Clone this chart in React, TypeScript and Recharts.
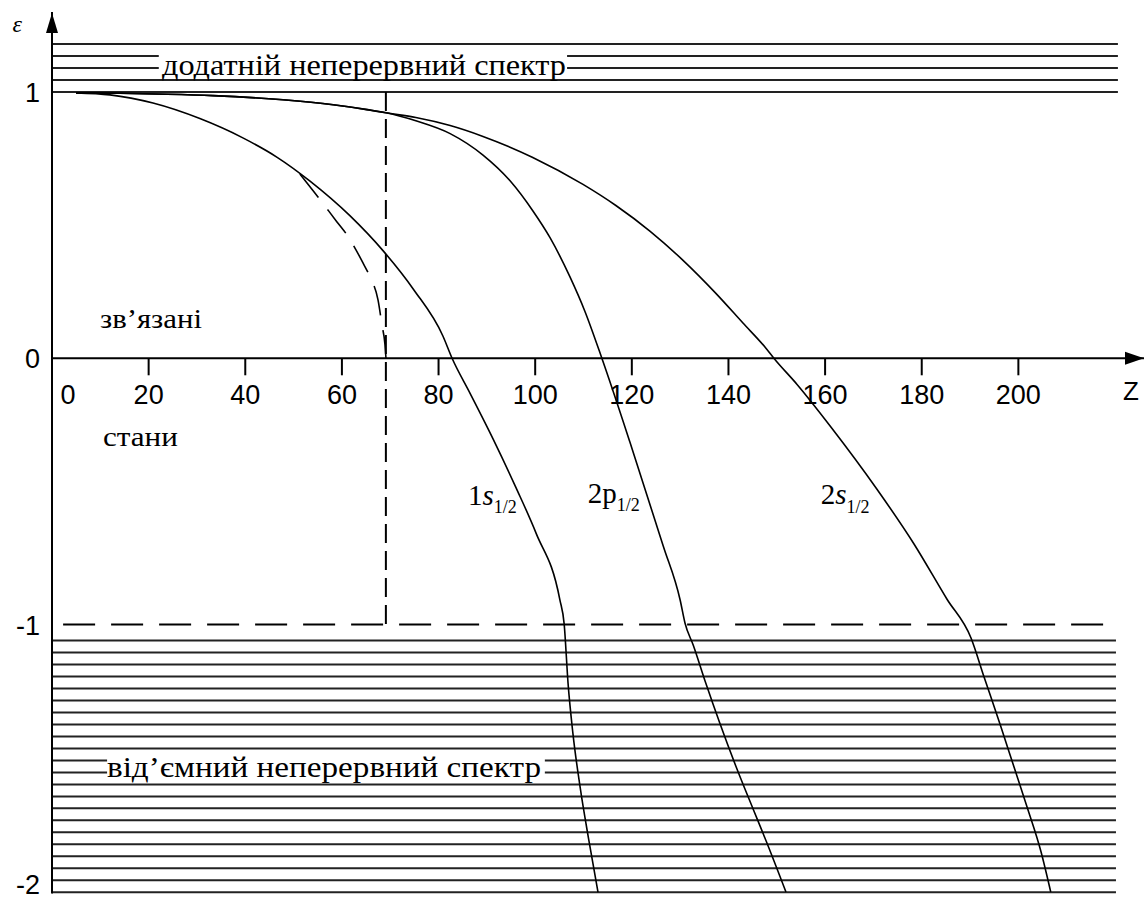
import React from 'react'
import { LineChart, Line, XAxis, YAxis, ReferenceLine, ReferenceDot } from 'recharts'

// continuum levels (epsilon)
const upperLevels = [1.18, 1.135, 1.09, 1.045, 1.0]
const lowerLevels = [
  -1.06, -1.105, -1.15, -1.195, -1.24, -1.285, -1.33, -1.375, -1.42, -1.465, -1.51,
  -1.555, -1.6, -1.645, -1.69, -1.735, -1.78, -1.825, -1.87, -1.915, -1.96, -2.005,
]
const upperBroken = [1.135, 1.09]
const lowerBroken = [-1.51, -1.555]

const zTicks = [20, 40, 60, 80, 100, 120, 140, 160, 180, 200]
const epsTicks = [-2, -1, 0, 1]

// shared start of 2p and 2s
const zShared = [4.97, 14.1, 23.8, 33.3, 47.8, 58.2, 65.2, 69.1]
const eShared = [0.9962, 0.9947, 0.9914, 0.9861, 0.9703, 0.9516, 0.9335, 0.9215]

const z1s = [4.97, 12.0, 20.9, 30.6, 39.5, 46.6, 53.4, 61.7, 68.5, 74.9, 80.9, 82.8, 86.5, 91.3, 96.0, 100.2, 105.1, 106.0, 106.8, 107.8, 109.3, 111.1, 113.0]
const e1s = [0.9962, 0.9887, 0.958, 0.8997, 0.8273, 0.7544, 0.665, 0.5344, 0.4041, 0.2565, 0.0837, 0, -0.1307, -0.3034, -0.4848, -0.6575, -0.9062, -0.9981, -1.2197, -1.4075, -1.6102, -1.8093, -2.0045]

const z2p = [75.3, 82.4, 89.2, 94.8, 99.5, 103.1, 107.2, 110.3, 113.8, 119.6, 126.5, 130.0, 131.0, 132.7, 135.3, 138.2, 141.6, 145.1, 147.8, 151.9]
const e2p = [0.8915, 0.8434, 0.7627, 0.6662, 0.5539, 0.4517, 0.3053, 0.1757, 0, -0.3143, -0.7048, -0.9076, -0.994, -1.0766, -1.2193, -1.3695, -1.5347, -1.6924, -1.8126, -2.0041]

const z2s = [75.3, 82.4, 89.2, 99.5, 109.9, 116.7, 123.8, 130.6, 137.4, 143.0, 147.8, 149.4, 154.2, 161.2, 170.7, 178.4, 185.2, 190.2, 192.9, 196.4, 199.1, 201.8, 204.7, 206.7]
const e2s = [0.904, 0.8738, 0.8329, 0.754, 0.6526, 0.5734, 0.4765, 0.3676, 0.2437, 0.1322, 0.0368, 0, -0.0984, -0.258, -0.4908, -0.6973, -0.9039, -1.0503, -1.1968, -1.3845, -1.5347, -1.6849, -1.8539, -2.0041]

// point-nucleus branch of 1s (dashed)
const zPoint = [51.3, 55.05, 58.98, 61.05, 64.36, 65.81, 67.47, 68.29, 68.92, 69.12]
const ePoint = [0.6921, 0.6057, 0.5118, 0.463, 0.3579, 0.3053, 0.219, 0.1251, 0.05, 0]

const zCritical = 69.1

const toRows = (zs: number[], es: number[]) => zs.map((z, i) => ({ z, e: es[i] }))

const data1s = toRows(z1s, e1s)
const data2p = toRows([...zShared, ...z2p], [...eShared, ...e2p])
const data2s = toRows([...zShared, ...z2s], [...eShared, ...e2s])
const dataPoint = toRows(zPoint, ePoint)

const SERIF = '"Liberation Serif", "Times New Roman", serif'
const SANS = '"Liberation Sans", Arial, sans-serif'
const Z_MAX = 226
const LEVEL_END = 220.6

const textShape = (node: (cx: number, cy: number) => React.ReactNode) => (p: any) => <g>{node(p.cx, p.cy)}</g>

const EpsTick = ({ x, y, payload }: any) => (
  <text
    x={x - 4}
    y={payload.value === -2 ? y + 3 : y + 10}
    textAnchor="end"
    fontFamily={SANS}
    fontSize={27}
    fill="#000"
  >
    {payload.value}
  </text>
)

const levelLine = (e: number, from: number, to: number, key: string) => (
  <ReferenceLine
    key={key}
    segment={[{ x: from, y: e }, { x: to, y: e }]}
    stroke="#222"
    strokeWidth={2}
  />
)

export default function App() {
  const lineProps = {
    dataKey: 'e',
    type: 'monotone' as const,
    dot: false,
    stroke: '#000',
    strokeWidth: 1.6,
    isAnimationActive: false,
  }
  return (
    <div style={{ position: 'absolute', left: 0, top: 0, background: '#fff' }}>
      <LineChart width={1147} height={900} margin={{ top: 12, right: 3, bottom: 6.4, left: 0 }}>
        <XAxis dataKey="z" type="number" domain={[0, Z_MAX]} allowDataOverflow hide />
        <YAxis
          type="number"
          domain={[-2.01, 1.3]}
          allowDataOverflow
          ticks={epsTicks}
          interval={0}
          width={52}
          tickLine={false}
          axisLine={{ stroke: '#000', strokeWidth: 2 }}
          tick={<EpsTick />}
        />

        {upperLevels.flatMap((e) =>
          upperBroken.includes(e)
            ? [levelLine(e, 0, 22.1, `u${e}a`), levelLine(e, 106.6, LEVEL_END, `u${e}b`)]
            : [levelLine(e, 0, LEVEL_END, `u${e}`)]
        )}
        {lowerLevels.flatMap((e) =>
          lowerBroken.includes(e)
            ? [levelLine(e, 0, 11.4, `l${e}a`), levelLine(e, 102.0, 220.2, `l${e}b`)]
            : [levelLine(e, 0, 220.2, `l${e}`)]
        )}

        <ReferenceLine
          segment={[{ x: 2.3, y: -1 }, { x: LEVEL_END, y: -1 }]}
          stroke="#000"
          strokeWidth={2}
          strokeDasharray="32 16"
        />
        <ReferenceLine
          segment={[{ x: zCritical, y: 1 }, { x: zCritical, y: -1 }]}
          stroke="#000"
          strokeWidth={2}
          strokeDasharray="19 8"
        />

        <ReferenceLine y={0} stroke="#000" strokeWidth={2} />
        {zTicks.map((z) => (
          <ReferenceLine key={`t${z}`} segment={[{ x: z, y: 0 }, { x: z, y: -0.064 }]} stroke="#000" strokeWidth={2} />
        ))}
        {[0, ...zTicks].map((z) => (
          <ReferenceDot
            key={`tl${z}`}
            x={z}
            y={0}
            r={0}
            shape={textShape((cx, cy) => (
              <text x={z === 0 ? cx + 16 : cx} y={cy + 46} textAnchor="middle" fontFamily={SANS} fontSize={27} fill="#000">
                {z}
              </text>
            ))}
          />
        ))}

        <ReferenceDot
          x={Z_MAX}
          y={0}
          r={0}
          shape={textShape((cx, cy) => (
            <polygon points={`${cx},${cy} ${cx - 19},${cy - 6.5} ${cx - 19},${cy + 6.5}`} fill="#000" />
          ))}
        />
        <ReferenceDot
          x={0}
          y={1.3}
          r={0}
          shape={textShape((cx, cy) => (
            <polygon points={`${cx},${cy + 1} ${cx - 6},${cy + 21} ${cx + 6},${cy + 21}`} fill="#000" />
          ))}
        />
        <ReferenceDot
          x={-7.2}
          y={1.225}
          r={0}
          ifOverflow="visible"
          shape={textShape((cx, cy) => (
            <text x={cx} y={cy} textAnchor="middle" fontFamily={SERIF} fontStyle="italic" fontSize={24} fill="#000">
              ε
            </text>
          ))}
        />
        <ReferenceDot
          x={223.3}
          y={-0.157}
          r={0}
          shape={textShape((cx, cy) => (
            <text x={cx} y={cy} textAnchor="middle" fontFamily={SANS} fontSize={26} fill="#000">
              Z
            </text>
          ))}
        />

        <ReferenceDot
          x={22.76}
          y={1.064}
          r={0}
          shape={textShape((cx, cy) => (
            <text x={cx} y={cy} fontFamily={SERIF} fontSize={30} fill="#000" textLength={404} lengthAdjust="spacingAndGlyphs">
              додатній неперервний спектр
            </text>
          ))}
        />
        <ReferenceDot
          x={11.38}
          y={-1.572}
          r={0}
          shape={textShape((cx, cy) => (
            <text x={cx} y={cy} fontFamily={SERIF} fontSize={30} fill="#000" textLength={434} lengthAdjust="spacingAndGlyphs">
              від’ємний неперервний спектр
            </text>
          ))}
        />
        <ReferenceDot
          x={9.93}
          y={0.114}
          r={0}
          shape={textShape((cx, cy) => (
            <text x={cx} y={cy} fontFamily={SERIF} fontSize={28} fill="#000" textLength={102} lengthAdjust="spacingAndGlyphs">
              зв’язані
            </text>
          ))}
        />
        <ReferenceDot
          x={10.55}
          y={-0.329}
          r={0}
          shape={textShape((cx, cy) => (
            <text x={cx} y={cy} fontFamily={SERIF} fontSize={28} fill="#000" textLength={75} lengthAdjust="spacingAndGlyphs">
              стани
            </text>
          ))}
        />

        <ReferenceDot
          x={86.1}
          y={-0.551}
          r={0}
          shape={textShape((cx, cy) => (
            <text x={cx} y={cy} fontFamily={SERIF} fontSize={29} fill="#000">
              1<tspan fontStyle="italic">s</tspan>
              <tspan fontSize={18} dy={8}>1/2</tspan>
            </text>
          ))}
        />
        <ReferenceDot
          x={110.9}
          y={-0.544}
          r={0}
          shape={textShape((cx, cy) => (
            <text x={cx} y={cy} fontFamily={SERIF} fontSize={29} fill="#000">
              2p<tspan fontSize={18} dy={8}>1/2</tspan>
            </text>
          ))}
        />
        <ReferenceDot
          x={159.1}
          y={-0.548}
          r={0}
          shape={textShape((cx, cy) => (
            <text x={cx} y={cy} fontFamily={SERIF} fontSize={29} fill="#000">
              2<tspan fontStyle="italic">s</tspan>
              <tspan fontSize={18} dy={9}>1/2</tspan>
            </text>
          ))}
        />

        <Line data={data1s} {...lineProps} />
        <Line data={data2p} {...lineProps} />
        <Line data={data2s} {...lineProps} />
        <Line data={dataPoint} {...lineProps} strokeDasharray="30 15" />
      </LineChart>
    </div>
  )
}
